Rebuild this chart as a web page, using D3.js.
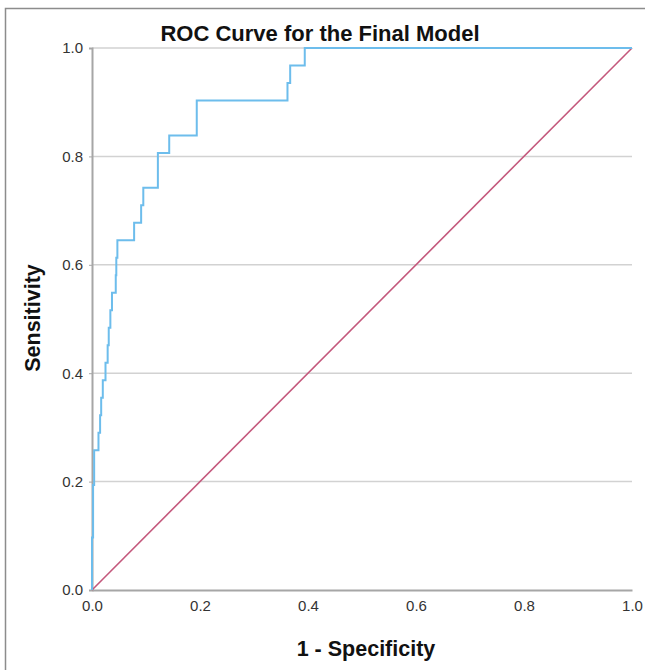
<!DOCTYPE html>
<html>
<head>
<meta charset="utf-8">
<script src="https://cdn.jsdelivr.net/npm/d3@7"></script>
<style>
  body { margin: 0; background: #fff; }
  svg { display: block; font-family: "Liberation Sans", Arial, sans-serif; }
</style>
</head>
<body>
<script>
// ROC points (1 - specificity, sensitivity), 31 positives
const fpr = [0, 0, 0.002, 0.002, 0.004, 0.004, 0.012, 0.012, 0.015, 0.015, 0.017, 0.017,
  0.020, 0.020, 0.025, 0.025, 0.029, 0.029, 0.031, 0.031, 0.034, 0.034, 0.037, 0.037,
  0.044, 0.044, 0.045, 0.045, 0.047, 0.047, 0.078, 0.078, 0.091, 0.091, 0.095, 0.095,
  0.122, 0.122, 0.143, 0.143, 0.194, 0.194, 0.362, 0.362, 0.367, 0.367, 0.394, 0.394, 1.0];
const tprCount = [0, 3, 3, 6, 6, 8, 8, 9, 9, 10, 10, 11,
  11, 12, 12, 13, 13, 14, 14, 15, 15, 16, 16, 17,
  17, 18, 18, 19, 19, 20, 20, 21, 21, 22, 22, 23,
  23, 25, 25, 26, 26, 28, 28, 29, 29, 30, 30, 31, 31];
const positives = 31;
const refLine = [0, 1];
const ticks = [0, 0.2, 0.4, 0.6, 0.8, 1.0];

const w = 645, h = 670;
const margin = {left: 92, right: 13, top: 48, bottom: 80};

const svg = d3.select("body").append("svg")
  .attr("width", w)
  .attr("height", h);

// outer frame
svg.append("path")
  .attr("d", `M5.5,${h} L5.5,8.5 L${w},8.5`)
  .attr("fill", "none")
  .attr("stroke", "#8c8c8c")
  .attr("stroke-width", 1.5);

const x = d3.scaleLinear().domain([0, 1]).range([margin.left, w - margin.right]);
const y = d3.scaleLinear().domain([0, 1]).range([h - margin.bottom, margin.top]);

// gridlines
svg.append("g")
  .selectAll("line")
  .data(ticks.filter(d => d > 0))
  .enter().append("line")
  .attr("x1", x(0))
  .attr("x2", x(1))
  .attr("y1", d => y(d))
  .attr("y2", d => y(d))
  .attr("stroke", "#d2d2d2")
  .attr("stroke-width", 1.5);

// axes
const yAxis = svg.append("g")
  .attr("transform", `translate(${x(0)},0)`)
  .call(d3.axisLeft(y).tickValues(ticks).tickFormat(d3.format(".1f")).tickSize(3).tickPadding(6));
const xAxis = svg.append("g")
  .attr("transform", `translate(0,${y(0)})`)
  .call(d3.axisBottom(x).tickValues(ticks).tickFormat(d3.format(".1f")).tickSize(0).tickPadding(10));

[yAxis, xAxis].forEach(g => {
  g.attr("font-size", 15);
  g.select(".domain").attr("stroke", "#a6a6a6").attr("stroke-width", 2);
  g.selectAll(".tick line").attr("stroke", "#a6a6a6");
  g.selectAll("text").attr("fill", "#333");
});

// reference diagonal
svg.append("line")
  .attr("x1", x(refLine[0]))
  .attr("y1", y(refLine[0]))
  .attr("x2", x(refLine[1]))
  .attr("y2", y(refLine[1]))
  .attr("stroke", "#c4587c")
  .attr("stroke-width", 1.6);

// ROC curve
const line = d3.line()
  .x((d, i) => x(fpr[i]))
  .y(d => y(d / positives));

svg.append("path")
  .datum(tprCount)
  .attr("d", line)
  .attr("fill", "none")
  .attr("stroke", "#6dbdec")
  .attr("stroke-width", 2);

// titles
svg.append("text")
  .attr("x", 320)
  .attr("y", 41)
  .attr("text-anchor", "middle")
  .attr("font-weight", "bold")
  .attr("font-size", 22)
  .attr("fill", "#111")
  .text("ROC Curve for the Final Model");

svg.append("text")
  .attr("x", 366)
  .attr("y", 656)
  .attr("text-anchor", "middle")
  .attr("font-weight", "bold")
  .attr("font-size", 21.5)
  .attr("fill", "#111")
  .text("1 - Specificity");

svg.append("text")
  .attr("transform", "translate(40,318) rotate(-90)")
  .attr("text-anchor", "middle")
  .attr("font-weight", "bold")
  .attr("font-size", 21.5)
  .attr("fill", "#111")
  .text("Sensitivity");
</script>
</body>
</html>
